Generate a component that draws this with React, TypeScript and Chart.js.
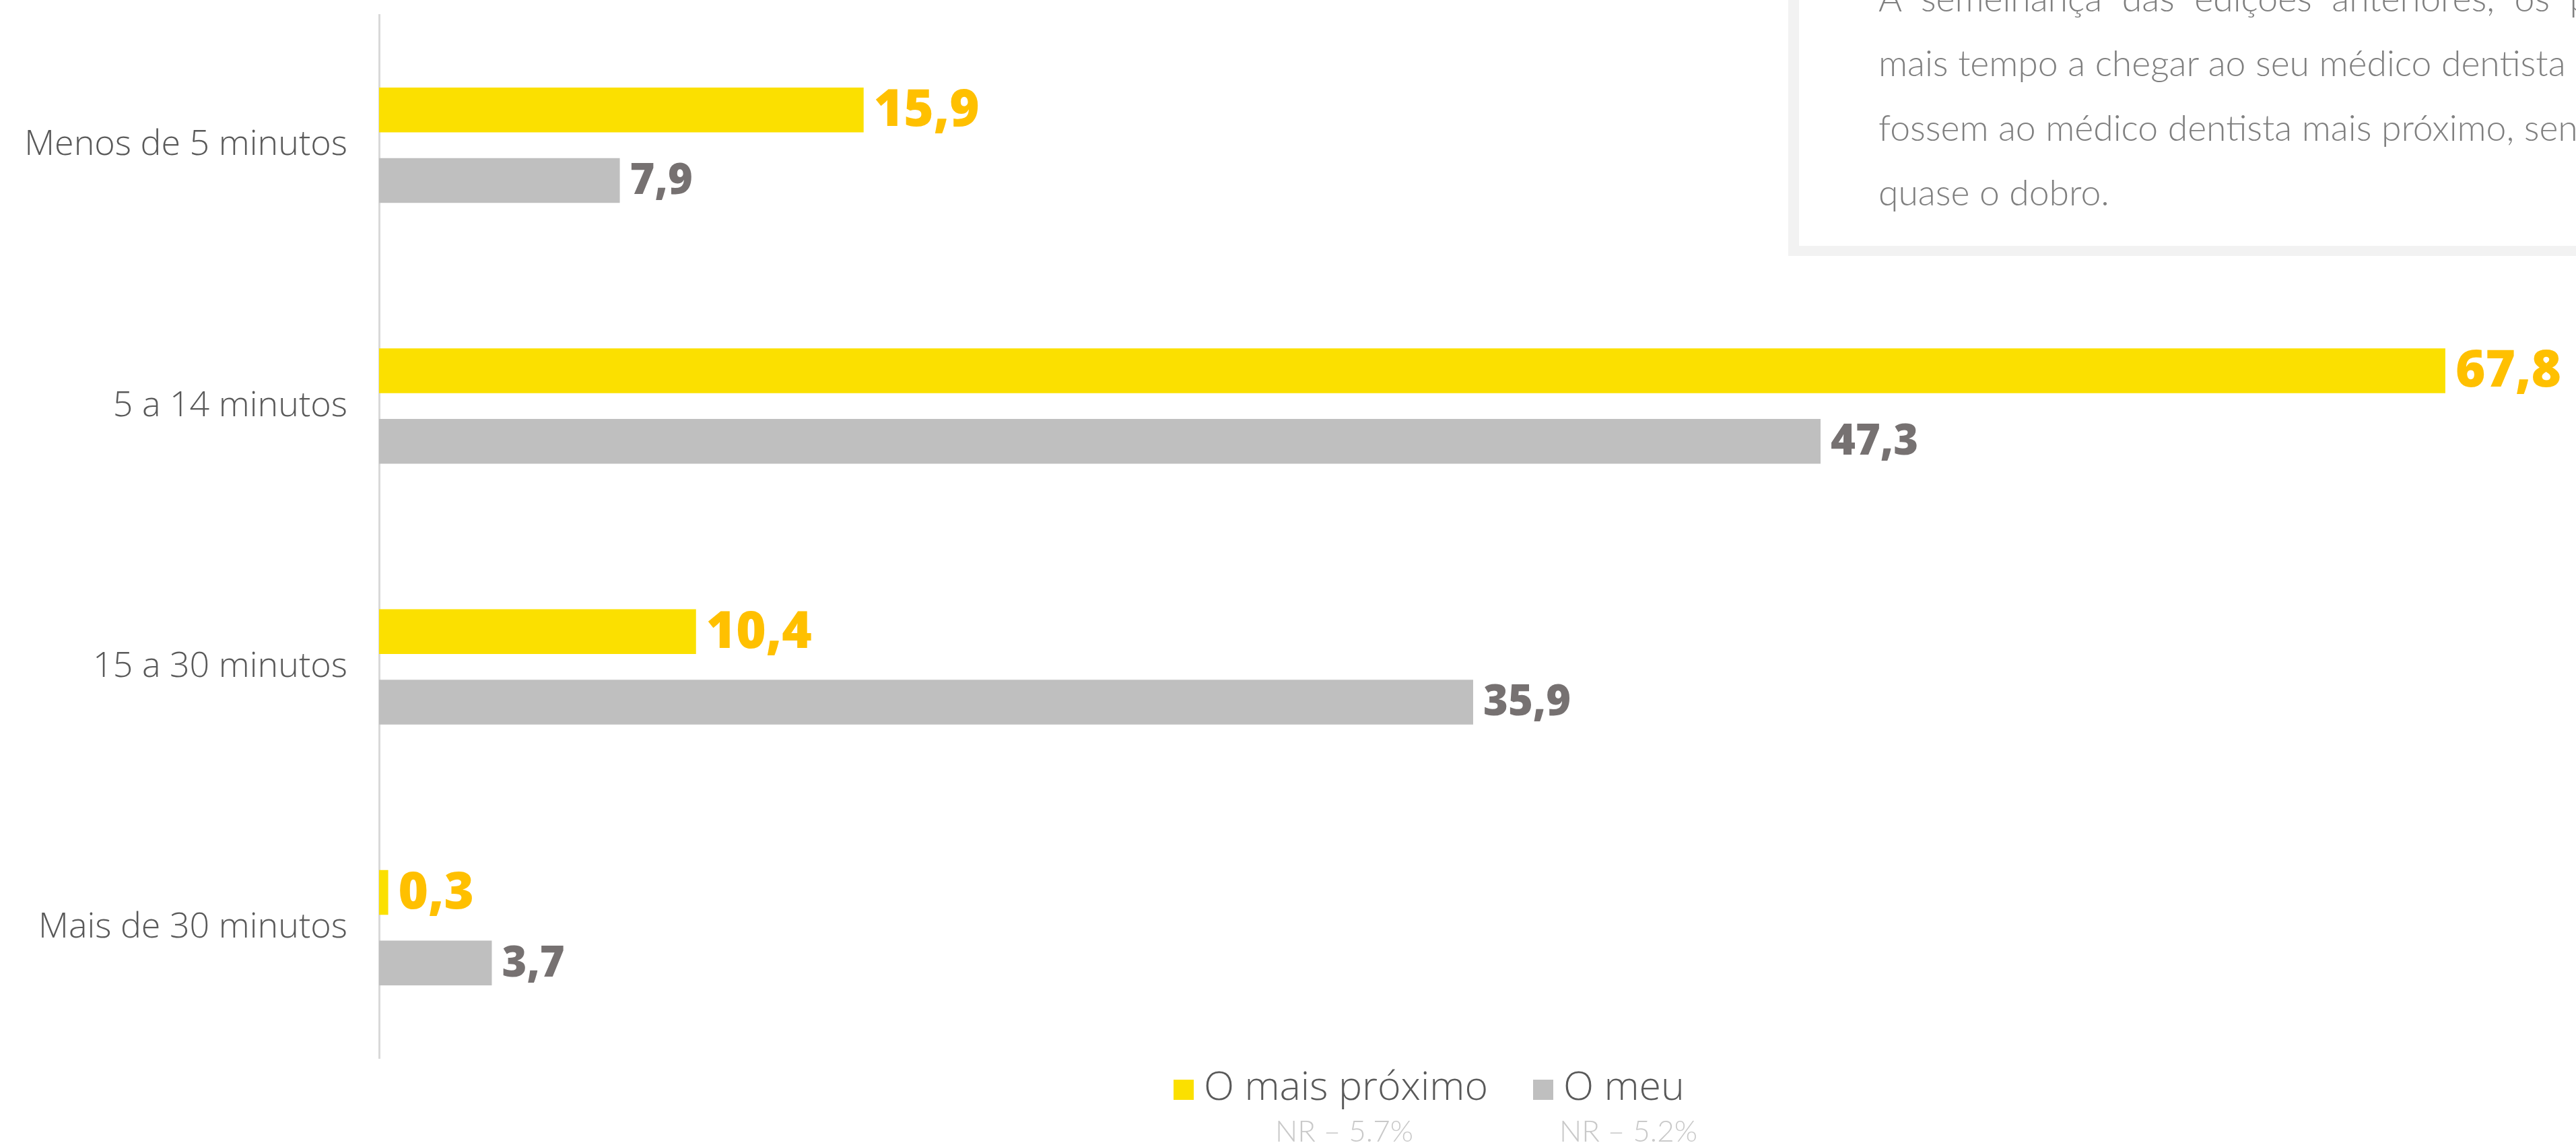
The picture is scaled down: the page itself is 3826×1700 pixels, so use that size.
import React, { useEffect, useRef } from "react";
import { Chart, registerables } from "chart.js";

Chart.register(...registerables);

const categories = ["Menos de 5 minutos", "5 a 14 minutos", "15 a 30 minutos", "Mais de 30 minutos"];
const maisProximo = [15.9, 67.8, 10.4, 0.3];
const meu = [7.9, 47.3, 35.9, 3.7];
const seriesLabels = ["O mais próximo", "O meu"];
const nrLabels = ["NR – 5.7%", "NR – 5.2%"];
const barColors = ["#FBE000", "#BFBFBF"];
const valueColors = ["#FFC000", "#767171"];
const noteLines = [
  "À semelhança das edições anteriores, os portugueses",
  "mais tempo a chegar ao seu médico dentista do que",
  "fossem ao médico dentista mais próximo, sendo",
  "quase o dobro.",
];

const valueLabelPlugin = {
  id: "valueLabels",
  afterDatasetsDraw(chart: any) {
    const ctx = chart.ctx;
    chart.data.datasets.forEach((ds: any, di: number) => {
      const meta = chart.getDatasetMeta(di);
      meta.data.forEach((el: any, i: number) => {
        const v = ds.data[i] as number;
        const txt = v.toFixed(1).replace(".", ",");
        ctx.save();
        ctx.font = di === 0 ? "800 76px 'Open Sans'" : "800 63px 'Open Sans'";
        ctx.fillStyle = valueColors[di];
        ctx.textAlign = "left";
        ctx.textBaseline = "middle";
        ctx.fillText(txt, el.x + 15, el.y + 2);
        ctx.restore();
      });
    });
  },
};

export default function App() {
  const canvasRef = useRef<HTMLCanvasElement | null>(null);

  useEffect(() => {
    document.body.style.margin = "0";
    document.body.style.overflow = "hidden";
    const canvas = canvasRef.current;
    if (!canvas) return;
    const chart = new Chart(canvas, {
      type: "bar",
      data: {
        labels: categories,
        datasets: [
          { label: seriesLabels[0], data: maisProximo, backgroundColor: barColors[0] },
          { label: seriesLabels[1], data: meu, backgroundColor: barColors[1] },
        ],
      },
      options: {
        indexAxis: "y",
        responsive: false,
        animation: false,
        devicePixelRatio: 1,
        layout: { padding: { top: 22, bottom: 129, left: 0, right: 4 } },
        datasets: { bar: { categoryPercentage: 0.54, barPercentage: 0.636 } } as any,
        plugins: { legend: { display: false }, tooltip: { enabled: false } },
        scales: {
          x: { display: false, min: 0, max: 72 },
          y: {
            grid: { display: false, drawTicks: false },
            border: { display: true, color: "#D9D9D9", width: 3 },
            ticks: {
              color: "#595959",
              padding: 47,
              font: { family: "'Open Sans'", size: 52, weight: "300" as any },
            },
            afterFit: (s: any) => {
              s.width = 563;
              s.paddingTop = 0;
              s.paddingBottom = 0;
            },
          },
        },
      },
      plugins: [valueLabelPlugin],
    });
    return () => chart.destroy();
  }, []);

  return (
    <div style={{ position: "relative", width: 3826, height: 1700, overflow: "hidden", background: "#fff" }}>
      <canvas ref={canvasRef} width={3826} height={1700} style={{ position: "absolute", left: 0, top: 0 }} />
      <div
        style={{
          position: "absolute",
          left: 2656,
          top: -200,
          width: 1400,
          height: 580,
          background: "#F2F2F2",
        }}
      >
        <div style={{ position: "absolute", left: 16, top: 0, right: 0, bottom: 15, background: "#fff" }} />
      </div>
      <div
        style={{
          position: "absolute",
          left: 2790,
          top: -52,
          fontFamily: "'Lato Light', Lato, sans-serif",
          fontWeight: 300,
          fontSize: 53.5,
          lineHeight: "96px",
          color: "#7F7F7F",
          whiteSpace: "nowrap",
        }}
      >
        {noteLines.map((l, i) => (
          <div key={i} style={{ wordSpacing: i === 0 ? 15 : 0 }}>
            {l}
          </div>
        ))}
      </div>
      {seriesLabels.map((s, i) => (
        <React.Fragment key={s}>
          <div
            style={{
              position: "absolute",
              left: [1743, 2277][i],
              top: 1603,
              width: 30,
              height: 30,
              background: barColors[i],
            }}
          />
          <div
            style={{
              position: "absolute",
              left: [1788, 2322][i],
              top: 1581,
              fontFamily: "'Open Sans', sans-serif",
              fontWeight: 300,
              fontSize: 59,
              lineHeight: 1,
              color: "#595959",
              whiteSpace: "nowrap",
            }}
          >
            {s}
          </div>
          <div
            style={{
              position: "absolute",
              left: [1894, 2316][i],
              top: 1656,
              fontFamily: "'Lato Light', Lato, sans-serif",
              fontWeight: 300,
              fontSize: 44,
              lineHeight: 1,
              color: "#C9C9C9",
              whiteSpace: "nowrap",
            }}
          >
            {nrLabels[i]}
          </div>
        </React.Fragment>
      ))}
    </div>
  );
}
